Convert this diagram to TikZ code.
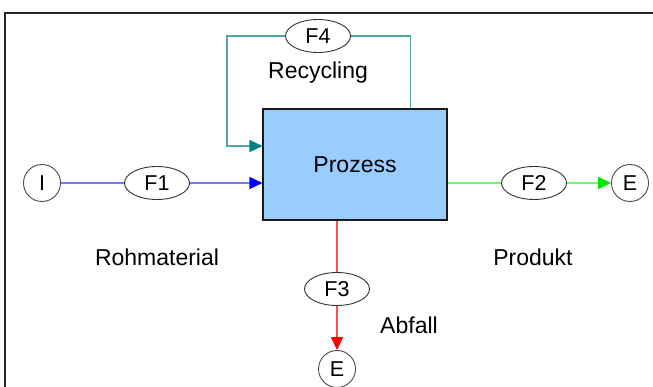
\documentclass[tikz,border=0pt]{standalone}
\usepackage{fontspec}
\setmainfont{Liberation Sans}
\usetikzlibrary{arrows.meta,shapes.geometric}

\definecolor{boxblue}{RGB}{153,204,255}
\definecolor{lineblue}{RGB}{120,120,255}
\definecolor{linegreen}{RGB}{110,250,110}
\definecolor{tipgreen}{RGB}{0,230,0}
\definecolor{linered}{RGB}{255,80,80}
\definecolor{lineteal}{RGB}{80,165,165}
\definecolor{tipteal}{RGB}{0,128,128}

\begin{document}
\begin{tikzpicture}[x=1pt, y=-1pt,
    txt/.style={font=\fontsize{23}{26}\selectfont},
    flow/.style={draw=black!80, line width=0.9pt, ellipse, minimum width=65pt,
      minimum height=33pt, inner sep=0pt, fill=white, font=\fontsize{21.5}{24}\selectfont},
    ends/.style={draw=black!70, line width=0.9pt, circle, minimum size=37pt,
      inner sep=0pt, fill=white, font=\fontsize{21.5}{24}\selectfont},
    tip/.style={-{Triangle[length=13pt,width=12pt,color=#1]}}]
        \useasboundingbox (0,0) rectangle (653,387);

        \draw [line width=2pt, black!85] (5,387) -- (5,13) -- (653,13);

        \node [draw=black!90, line width=1.1pt, fill=boxblue, minimum width=184pt, minimum height=111pt,
          font=\fontsize{23}{26}\selectfont] (prozess) at (355,164.5) {Prozess};

        \node [ends] (I) at (42,183) {I};
        \node [flow] (F1) at (157,183) {F1};
        \node [flow] (F2) at (534,183) {F2};
        \node [ends] (E1) at (630,183) {E};
        \node [flow] (F3) at (337,289) {F3};
        \node [ends] (E2) at (337,369) {E};
        \node [flow] (F4) at (318,36) {F4};

        \coordinate (R1) at ([xshift=-37pt]prozess.north east);
        \coordinate (R2) at ([yshift=18.5pt]prozess.west);
        \coordinate (R3) at (227,36);

        \draw [lineblue, line width=1.7pt] (I) -- (F1);
        \draw [lineblue, line width=1.7pt, tip=blue] (F1) -- (F1 -| prozess.west);

        \draw [linegreen, line width=1.7pt] (F2 -| prozess.east) -- (F2);
        \draw [linegreen, line width=1.7pt, tip=tipgreen] (F2) -- (E1);

        \draw [linered, line width=1.4pt] (F3 |- prozess.south) -- (F3);
        \draw [linered, line width=1.4pt, tip=red] (F3) -- (E2);

        \draw [lineteal, line width=1.4pt] (R1) |- (F4);
        \draw [lineteal, line width=1.4pt, tip=tipteal] (F4) -- (R3) |- (R2);

        \node [txt] (recycling) at (318,73) {Recycling};
        \node [txt] (rohmaterial) at (157,257) {Rohmaterial};
        \node [txt] (produkt) at (533,257) {Produkt};
        \node [txt] (abfall) at (409,325) {Abfall};
      \end{tikzpicture}
\end{document}
